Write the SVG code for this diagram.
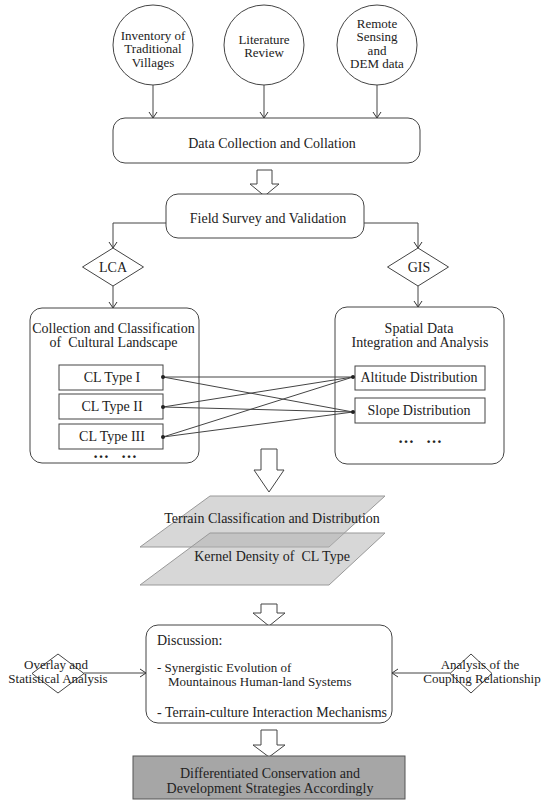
<svg xmlns="http://www.w3.org/2000/svg" width="550" height="805" viewBox="0 0 550 805">
<style>
.t{font-family:"Liberation Serif","Times New Roman",serif;font-size:14px;fill:#222}
.c{font-size:13px}
.m{text-anchor:middle}
.s{fill:none;stroke:#444;stroke-width:1}
.n{fill:#fff;stroke:#444;stroke-width:1}
.b{fill:#fff;stroke:#444;stroke-width:1}
.p{fill:#afafaf;fill-opacity:0.5;stroke:#999;stroke-width:1}
.d{fill:#222}
</style>
<defs>
<marker id="a" markerWidth="10" markerHeight="10" refX="8" refY="5" orient="auto" markerUnits="userSpaceOnUse"><path d="M2,1 L8,5 L2,9" fill="none" stroke="#333" stroke-width="1"/></marker>
</defs>
<rect width="550" height="805" fill="#fff"/>
<g id="connectors">
<line class="s" x1="153" y1="85" x2="153" y2="118" marker-end="url(#a)"/>
<line class="s" x1="264" y1="85" x2="264" y2="118" marker-end="url(#a)"/>
<line class="s" x1="377" y1="85" x2="377" y2="118" marker-end="url(#a)"/>
<path class="s" d="M166,223 H113 V248" marker-end="url(#a)"/>
<path class="s" d="M364,223 H418 V248" marker-end="url(#a)"/>
<line class="s" x1="113" y1="286" x2="113" y2="308" marker-end="url(#a)"/>
<line class="s" x1="418" y1="286" x2="418" y2="307" marker-end="url(#a)"/>
<line class="s" x1="84" y1="673" x2="146" y2="673" marker-end="url(#a)"/>
<line class="s" x1="450" y1="673" x2="392" y2="673" marker-end="url(#a)"/>
<polygon class="b" points="257,170 272,170 272,184 279,184 264.5,196 250,184 257,184"/>
<polygon class="b" points="261,449 277,449 277,470 284,470 269,492 254,470 261,470"/>
<polygon class="b" points="261,604 277,604 277,613 285,613 269,626 253,613 261,613"/>
<polygon class="b" points="261,730 277,730 277,745 285,745 269,757 253,745 261,745"/>
</g>
<g id="inventory">
<circle class="n" cx="153" cy="45" r="40"/>
<text class="t c m" x="153" y="39.5">Inventory of</text>
<text class="t c m" x="153" y="53">Traditional</text>
<text class="t c m" x="153" y="66.5">Villages</text>
</g>
<g id="literature">
<circle class="n" cx="264" cy="45" r="40"/>
<text class="t c m" x="264" y="43.5">Literature</text>
<text class="t c m" x="264" y="57">Review</text>
</g>
<g id="remote">
<circle class="n" cx="377" cy="45" r="40"/>
<text class="t c m" x="377" y="27.5">Remote</text>
<text class="t c m" x="377" y="41">Sensing</text>
<text class="t c m" x="377" y="54.5">and</text>
<text class="t c m" x="377" y="68">DEM data</text>
</g>
<g id="data-collection">
<rect class="n" x="113" y="118" width="307" height="45" rx="12"/>
<text class="t m" x="272" y="148">Data Collection and Collation</text>
</g>
<g id="field-survey">
<rect class="n" x="166" y="194" width="198" height="44" rx="12"/>
<text class="t m" x="268" y="223">Field Survey and Validation</text>
</g>
<g id="lca">
<polygon class="n" points="113,248 143.5,267 113,286 82.5,267"/>
<text class="t m" x="113" y="272">LCA</text>
</g>
<g id="gis">
<polygon class="n" points="418,248 448.5,267 418,286 387.5,267"/>
<text class="t m" x="419" y="272">GIS</text>
</g>
<g id="cl-box">
<rect class="n" x="30" y="308" width="169" height="155" rx="12"/>
<text class="t m" x="113.5" y="333">Collection and Classification</text>
<text class="t m" x="113.5" y="347" xml:space="preserve">of  Cultural Landscape</text>
<rect class="n" x="59" y="365" width="104" height="25"/>
<text class="t m" x="112" y="382">CL Type I</text>
<rect class="n" x="59" y="394" width="104" height="25"/>
<text class="t m" x="112" y="411">CL Type II</text>
<rect class="n" x="59" y="424" width="104" height="25"/>
<text class="t m" x="112" y="441">CL Type III</text>
<text class="t m" x="115" y="458" style="font-size:16px;font-weight:bold" xml:space="preserve">…   …</text>
</g>
<g id="spatial-box">
<rect class="n" x="335" y="307" width="169" height="157" rx="12"/>
<text class="t m" x="419" y="333">Spatial Data</text>
<text class="t m" x="420" y="347">Integration and Analysis</text>
<rect class="n" x="355" y="366" width="130" height="24"/>
<text class="t m" x="419" y="382">Altitude Distribution</text>
<rect class="n" x="355" y="398" width="130" height="25"/>
<text class="t m" x="419" y="415">Slope Distribution</text>
<text class="t m" x="420" y="443" style="font-size:16px;font-weight:bold" xml:space="preserve">…   …</text>
</g>
<g id="links">
<line class="s" x1="163" y1="377" x2="353" y2="377"/>
<line class="s" x1="163" y1="377" x2="353" y2="412"/>
<line class="s" x1="163" y1="407" x2="353" y2="377"/>
<line class="s" x1="163" y1="407" x2="353" y2="412"/>
<line class="s" x1="163" y1="437" x2="353" y2="377"/>
<line class="s" x1="163" y1="437" x2="353" y2="412"/>
<circle class="d" cx="163" cy="377" r="2"/>
<circle class="d" cx="163" cy="407" r="2"/>
<circle class="d" cx="163" cy="437" r="2"/>
<circle class="d" cx="353" cy="377" r="2"/>
<circle class="d" cx="353" cy="412" r="2"/>
</g>
<g id="terrain-layer">
<polygon class="p" points="210,496 385,496 329,547 140,547"/>
<text class="t m" x="272" y="523">Terrain Classification and Distribution</text>
</g>
<g id="kernel-layer">
<polygon class="p" points="210,533 385,533 329,585 140,585"/>
<text class="t m" x="272" y="561" xml:space="preserve">Kernel Density of  CL Type</text>
</g>
<g id="discussion">
<rect class="n" x="146" y="625" width="246" height="98" rx="12"/>
<text class="t" x="157" y="645">Discussion:</text>
<text class="t c" x="157" y="671.5">- Synergistic Evolution of</text>
<text class="t c" x="168" y="685.5">Mountainous Human-land Systems</text>
<text class="t" x="157" y="717">- Terrain-culture Interaction Mechanisms</text>
</g>
<g id="overlay">
<polygon class="s" points="58,654 84,673.5 58,693 32,673.5"/>
<text class="t c m" x="56" y="669">Overlay and</text>
<text class="t c m" x="58" y="683">Statistical Analysis</text>
</g>
<g id="coupling">
<polygon class="s" points="471,654 492,673.5 471,693 450,673.5"/>
<text class="t c m" x="480" y="669">Analysis of the</text>
<text class="t c m" x="482" y="683">Coupling Relationship</text>
</g>
<g id="strategies">
<rect x="133" y="756" width="272" height="43" fill="#a6a6a6" stroke="#555" stroke-width="1"/>
<text class="t m" x="270" y="778">Differentiated Conservation and</text>
<text class="t m" x="270" y="793">Development Strategies Accordingly</text>
</g>
</svg>
